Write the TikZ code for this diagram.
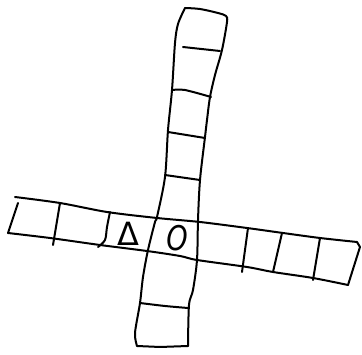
\documentclass[tikz,border=0pt]{standalone}
\usepackage{fontspec}
\newfontfamily\handfont{DejaVu Sans}
\begin{document}
\begin{tikzpicture}[x=1pt,y=-1pt,
  pen/.style={line width=2pt,line cap=round,line join=round},
  sym/.style={font=\handfont\fontsize{32}{32}\selectfont,inner sep=0pt}]
\useasboundingbox (0,0) rectangle (362,355);
% vertical strip
\draw[pen] plot[smooth] coordinates {(137,346) (135,333) (140,303) (143,277) (148,250) (155,222) (157,217) (165,177) (168,130) (172,90) (175,43) (178,24) (185,8)};
\draw[pen] plot[smooth] coordinates {(185,8) (200,9) (218,13) (226,16) (227,22) (222,50) (215,75) (210,97) (207,120) (205,137) (200,180) (198,220) (197,260) (193,290) (189,305) (188,346)};
\draw[pen] (137,346) -- (160,347) -- (188,346);
\draw[pen] (183,47) -- (220,51);
\draw[pen] plot[smooth] coordinates {(172,90) (185,90) (211,97)};
\draw[pen] (168,132) -- (205,138);
\draw[pen] (165,175) -- (200,180);
\draw[pen] plot[smooth] coordinates {(140,303) (165,306) (188,308)};
% horizontal strip
\draw[pen] plot[smooth] coordinates {(15,197) (60,203) (107,212) (157,218) (200,222) (247,228) (283,233) (320,238) (357,242)};
\draw[pen] plot[smooth] coordinates {(8,233) (50,238) (100,245) (147,251) (180,256) (197,260) (247,267) (273,272) (313,278) (348,285)};
\draw[pen] (18,203) -- (8,233);
\draw[pen] (357,242) -- (360,247) -- (348,285);
\draw[pen] (60,203) -- (53,245);
\draw[pen] plot[smooth] coordinates {(110,212) (107,227) (105,240) (98,247)};
\draw[pen] (248,228) -- (242,272);
\draw[pen] (282,233) -- (273,272);
\draw[pen] (320,238) -- (313,280);
% marks
\node[sym] (delta) at (128,234) {Δ};
\node[sym,font=\handfont\itshape\fontsize{34}{34}\selectfont] (ring) at (177,238) {\scalebox{0.8}[1]{O}};
\end{tikzpicture}
\end{document}
